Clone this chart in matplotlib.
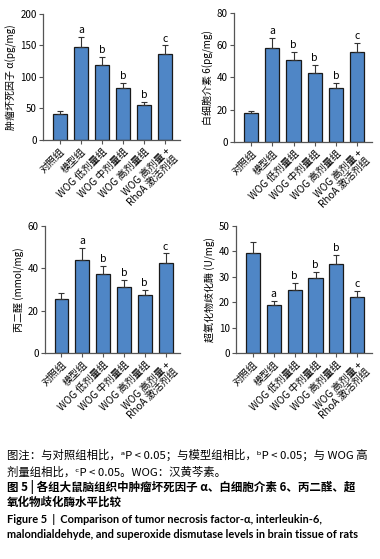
import numpy as np
import matplotlib
matplotlib.use('Agg')
import matplotlib.pyplot as plt

plt.rcParams['font.family'] = ['Noto Sans CJK SC', 'DejaVu Sans']

groups = ['对照组', '模型组', 'WOG 低剂量组', 'WOG 中剂量组', 'WOG 高剂量组', 'WOG 高剂量 +\nRhoA 激活剂组']

tnf = [41, 148, 119, 83, 55, 136]
tnf_err = [4, 15, 13, 8, 5, 14]
tnf_sig = ['', 'a', 'b', 'b', 'b', 'c']

il6 = [18, 58.5, 50.5, 43, 33.5, 56]
il6_err = [1.5, 6, 5, 4.5, 3, 5.5]
il6_sig = ['', 'a', 'b', 'b', 'b', 'c']

mda = [25.5, 44, 37.5, 31, 27.5, 42.5]
mda_err = [3, 5.5, 3.5, 3.5, 2.5, 4.5]
mda_sig = ['', 'a', 'b', 'b', 'b', 'c']

sod = [39.5, 19, 25, 29.5, 35, 22]
sod_err = [4, 1.5, 2.5, 2.5, 3.5, 2.5]
sod_sig = ['', 'a', 'b', 'b', 'b', 'c']

panels = [
    (tnf, tnf_err, tnf_sig, '肿瘤坏死因子 α(pg/mg)', 200, 50, [0.113, 0.750, 0.361, 0.225]),
    (il6, il6_err, il6_sig, '白细胞介素 6(pg/mg)', 80, 20, [0.616, 0.746, 0.363, 0.231]),
    (mda, mda_err, mda_sig, '丙二醛 (mmol/mg)', 60, 20, [0.118, 0.368, 0.356, 0.228]),
    (sod, sod_err, sod_sig, '超氧化物歧化酶 (U/mg)', 50, 10, [0.621, 0.368, 0.358, 0.228]),
]

fig = plt.figure(figsize=(3.8, 5.59), dpi=100)
x = np.arange(len(groups))

for vals, errs, sig, ylab, ymax, step, pos in panels:
    ax = fig.add_axes(pos)
    ax.bar(x, vals, width=0.67, color='#4f86c6', edgecolor='#1a1a1a', linewidth=0.9)
    ax.errorbar(x, vals, yerr=[np.zeros(len(vals)), errs], fmt='none',
                ecolor='#333333', elinewidth=0.8, capsize=2.5, capthick=0.8)
    for xi, v, e, s in zip(x, vals, errs, sig):
        if s:
            ax.text(xi, v + e + ymax * 0.015, s, ha='center', va='bottom', fontsize=7.5)
    ax.set_xlim(-0.8, 5.7)
    ax.set_ylim(0, ymax)
    ax.set_yticks(np.arange(0, ymax + 1, step))
    ax.spines['top'].set_visible(False)
    ax.spines['right'].set_visible(False)
    for sp in ['left', 'bottom']:
        ax.spines[sp].set_color('#555555')
        ax.spines[sp].set_linewidth(0.9)
    ax.tick_params(axis='both', labelsize=7, length=3, width=0.8, color='#555555', pad=1.5)
    ax.set_xticks(x)
    ax.set_xticklabels(groups, rotation=45, ha='right', rotation_mode='anchor', fontsize=7.2,
                       linespacing=1.0)
    ax.set_ylabel(ylab, fontsize=7.2, labelpad=2)

cap_x = 0.018
fig.text(cap_x, 0.186, '图注：与对照组相比，ᵃP < 0.05；与模型组相比，ᵇP < 0.05；与 WOG 高', fontsize=8.2, va='center')
fig.text(cap_x, 0.156, '剂量组相比，ᶜP < 0.05。WOG：汉黄芩素。', fontsize=8.2, va='center')
fig.text(cap_x, 0.129, '图 5 | 各组大鼠脑组织中肿瘤坏死因子 α、白细胞介素 6、丙二醛、超', fontsize=8.3,
         fontweight='bold', va='center')
fig.text(cap_x, 0.102, '氧化物歧化酶水平比较', fontsize=8.3, fontweight='bold', va='center')
fig.text(cap_x, 0.070, 'Figure 5  |  Comparison of tumor necrosis factor-α, interleukin-6,', fontsize=7.9,
         fontweight='bold', va='center', family=['Lato', 'DejaVu Sans'])
fig.text(cap_x, 0.043, 'malondialdehyde, and superoxide dismutase levels in brain tissue of rats', fontsize=7.9,
         fontweight='bold', va='center', family=['Lato', 'DejaVu Sans'])

fig.savefig('out.png', dpi=100)
